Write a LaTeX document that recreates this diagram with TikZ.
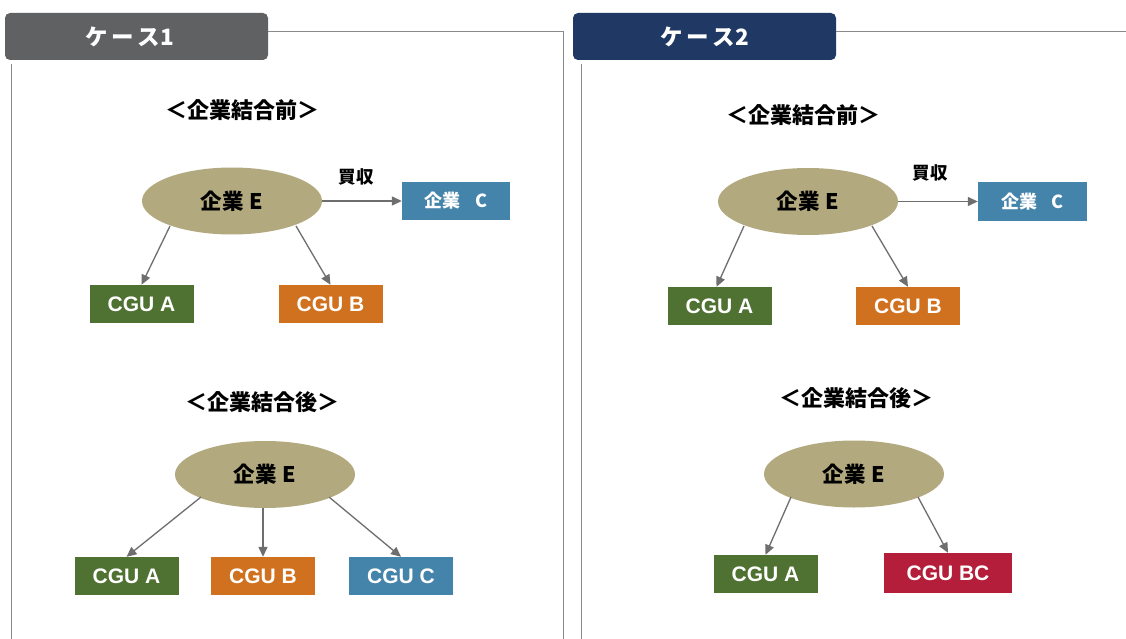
\documentclass[tikz,border=0pt]{standalone}
\usepackage{fontspec}
\setmainfont{Liberation Sans}
\newfontfamily\cjk{Noto Sans CJK JP}
\usetikzlibrary{arrows.meta,shapes.geometric,calc}
\definecolor{hdrA}{HTML}{606162}
\definecolor{hdrB}{HTML}{1F3864}
\definecolor{tan}{HTML}{B3A97F}
\definecolor{cgreen}{HTML}{4F7132}
\definecolor{corange}{HTML}{D0711F}
\definecolor{cblue}{HTML}{4584AA}
\definecolor{cred}{HTML}{B41E3A}
\definecolor{frame}{HTML}{8A8A8A}
\definecolor{arr}{HTML}{6E6E6E}
\tikzset{
  hdr/.style={rounded corners=5pt, minimum width=263pt, minimum height=47pt, inner sep=0pt,
    text=white, font=\cjk\bfseries\fontsize{22.5}{22.5}\selectfont},
  ttl/.style={font=\cjk\bfseries\fontsize{22}{22}\selectfont, inner sep=0pt},
  ent/.style={ellipse, fill=tan, minimum width=180pt, minimum height=67pt, inner sep=0pt,
    font=\cjk\bfseries\fontsize{21.5}{21.5}\selectfont},
  cgu/.style={minimum width=104pt, minimum height=38pt, inner sep=0pt, text=white,
    font=\bfseries\fontsize{21}{21}\selectfont},
  coc/.style={cgu, fill=cblue, font=\cjk\bfseries\fontsize{18}{18}\selectfont},
  frm/.style={draw=frame, line width=0.9pt},
  con/.style={draw=arr, line width=1.3pt, -{Triangle[length=10pt,width=9pt]}},
  lbl/.style={font=\cjk\bfseries\fontsize{17.5}{17.5}\selectfont, inner sep=0pt}
}
\begin{document}
\begin{tikzpicture}[x=1pt,y=-1pt]
\useasboundingbox[fill=white] (0,0) rectangle (1126,639);
% ---- Case 1 frame ----
\node[hdr, fill=hdrA, text width=263pt, align=center] (h1) at (136.5,36.5) {\hspace*{-14pt}ケ\,ー\,ス1};
\coordinate (f1a) at (268,31);
\coordinate (f1b) at (563,31);
\coordinate (f1c) at (563,639);
\coordinate (f1d) at (11,64);
\coordinate (f1e) at (11,639);
\draw[frm] (f1a) -- (f1b) -- (f1c);
\draw[frm] (f1d) -- (f1e);
% ---- Case 2 frame ----
\node[hdr, fill=hdrB] (h2) at (704.5,36.5) {ケ\,ー\,ス2};
\coordinate (f2a) at (836,31);
\coordinate (f2b) at (1126,31);
\coordinate (f2d) at (581,64);
\coordinate (f2e) at (581,639);
\draw[frm] (f2a) -- (f2b);
\draw[frm] (f2d) -- (f2e);

% ---- Case 1 before ----
\node[ttl] (t1) at (242,110) {＜企業結合前＞};
\node[ent] (e1) at (232,201) {企業\hspace{0.3em}E};
\node[coc, minimum width=108pt] (c1) at (456,201) {企業\hspace{0.8em}C};
\node[lbl] (k1) at (356,177) {買収};
\node[cgu, fill=cgreen] (a1) at (141.5,304) {CGU A};
\node[cgu, fill=corange] (b1) at (330.5,304) {CGU B};
\draw[con] (e1.east) -- (c1.west);
\draw[con] ($(e1.center)+(-62,25)$) -- (a1.north);
\draw[con] ($(e1.center)+(64,25)$) -- (b1.north);

% ---- Case 1 after ----
\node[ttl] (t2) at (262,402) {＜企業結合後＞};
\node[ent] (e2) at (265,474.5) {企業\hspace{0.3em}E};
\node[cgu, fill=cgreen] (a2) at (126.5,576) {CGU A};
\node[cgu, fill=corange] (b2) at (263,576) {CGU B};
\node[cgu, fill=cblue] (cc2) at (401,576) {CGU C};
\draw[con] ($(e2.center)+(-64,22.5)$) -- (a2.north);
\draw[con] (e2.south -| b2.north) -- (b2.north);
\draw[con] ($(e2.center)+(64,22.5)$) -- (cc2.north);

% ---- Case 2 before ----
\node[ttl] (t3) at (803,115) {＜企業結合前＞};
\node[ent] (e3) at (808,201.5) {企業\hspace{0.3em}E};
\node[coc, minimum width=109pt] (c3) at (1032.5,201.5) {企業\hspace{0.8em}C};
\node[lbl] (k3) at (930,173) {買収};
\node[cgu, fill=cgreen] (a3) at (719.5,306) {CGU A};
\node[cgu, fill=corange] (b3) at (908,306) {CGU B};
\draw[con] (e3.east) -- (c3.west);
\draw[con] ($(e3.center)+(-64,24.5)$) -- ($(a3.north)+(-3,0)$);
\draw[con] ($(e3.center)+(64,24.5)$) -- (b3.north);

% ---- Case 2 after ----
\node[ttl] (t4) at (856,398) {＜企業結合後＞};
\node[ent] (e4) at (854,474) {企業\hspace{0.3em}E};
\node[cgu, fill=cgreen] (a4) at (765.5,574) {CGU A};
\node[cgu, fill=cred, minimum width=128pt, minimum height=40pt] (bc4) at (948,573) {CGU BC};
\draw[con] ($(e4.center)+(-63,23)$) -- (a4.north);
\draw[con] ($(e4.center)+(64,23)$) -- (bc4.north);
\end{tikzpicture}
\end{document}
